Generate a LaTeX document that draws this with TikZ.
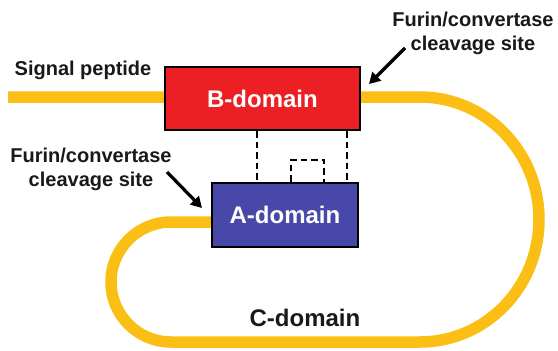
\documentclass[tikz,border=0pt]{standalone}
\usepackage{fontspec}
\setmainfont{Liberation Sans}
\usetikzlibrary{arrows.meta}
\definecolor{chain}{RGB}{250,190,20}
\definecolor{bred}{RGB}{236,32,36}
\definecolor{ablue}{RGB}{72,72,168}
\tikzset{
  domainbox/.style={draw=black, line width=2.4pt, inner sep=0pt, font=\fontsize{24}{28}\selectfont\bfseries, text=white},
  lbl/.style={font=\fontsize{20}{24}\selectfont\bfseries, text=black!90, align=center, inner sep=0pt},
  chainline/.style={draw=chain, line width=11.5pt},
  dl/.style={draw=black, line width=2.6pt, dash pattern=on 6.5pt off 4pt},
  pointer/.style={draw=black, line width=3.2pt, -{Triangle[length=11pt,width=12pt]}}
}
\begin{document}
\begin{tikzpicture}[x=1pt,y=1pt]
\useasboundingbox (0,0) rectangle (558,-351);
% polypeptide chain
\draw[chainline] (8,-97) -- (420,-97)
  arc[start angle=90, end angle=-90, x radius=119pt, y radius=122.5pt]
  -- (171,-342)
  arc[start angle=-90, end angle=-270, radius=60pt]
  -- (214,-222);
% domains
\node[domainbox, fill=bred, minimum width=195pt, minimum height=63pt] (B) at (262.5,-98.5) {B-domain};
\node[domainbox, fill=ablue, minimum width=146pt, minimum height=64pt] (A) at (285,-215) {A-domain};
% disulfide bonds
\coordinate (d1) at (257,0);
\coordinate (d2) at (347,0);
\coordinate (d3) at (291,0);
\coordinate (d4) at (324,0);
\coordinate (dtop) at (0,-160);
\draw[dl] (d1 |- B.south) -- (d1 |- A.north);
\draw[dl] (d2 |- B.south) -- (d2 |- A.north);
\draw[dl] (d3 |- A.north) -- (d3 |- dtop) -- (d4 |- dtop) -- (d4 |- A.north);
% labels
\node[lbl] (sp) at (83,-70) {Signal peptide};
\node[lbl] (f1) at (473,-33) {Furin/convertase\\cleavage site};
\node[lbl] (f2) at (91,-169) {Furin/convertase\\cleavage site};
\node[lbl, font=\fontsize{24}{28}\selectfont\bfseries] (C) at (305,-318) {C-domain};
% arrows
\coordinate (t1) at (405,-48);
\coordinate (h1) at (369,-84);
\coordinate (t2) at (167,-172);
\coordinate (h2) at (202,-208);
\draw[pointer] (t1) -- (h1);
\draw[pointer] (t2) -- (h2);
\end{tikzpicture}
\end{document}
